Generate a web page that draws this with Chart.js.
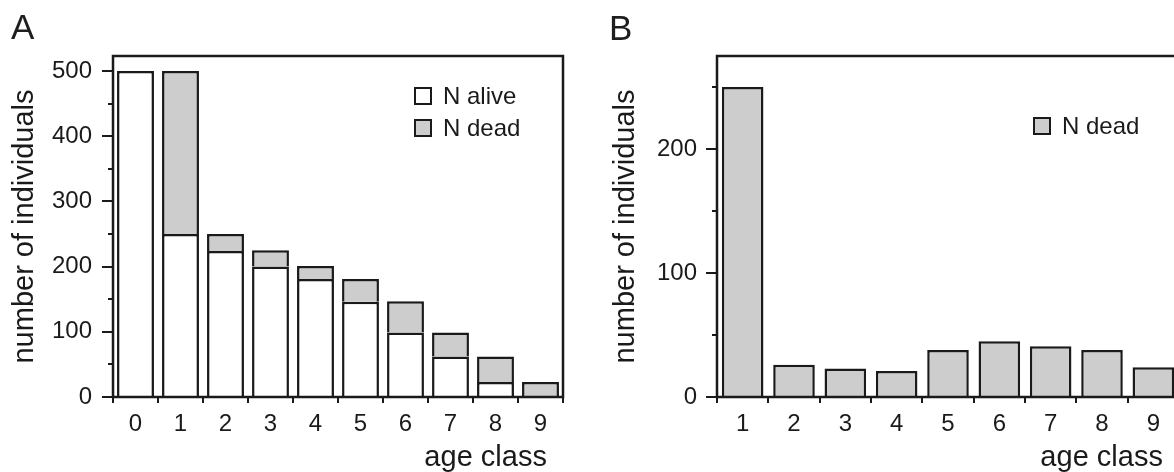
<!DOCTYPE html>
<html>
<head>
<meta charset="utf-8">
<script src="https://cdn.jsdelivr.net/npm/chart.js@4.4.1/dist/chart.umd.min.js"></script>
<style>
  html, body { margin: 0; padding: 0; background: #fff; overflow: hidden; }
  body { width: 1174px; height: 472px; position: relative; font-family: "Liberation Sans", Arial, sans-serif; color: #1e1e1e; }
  .wrap { position: absolute; top: 0; }
  .panel-letter { position: absolute; font-size: 35px; line-height: 35px; }
</style>
</head>
<body>
<div class="wrap" style="left:0"><canvas id="chartA" width="580" height="472"></canvas></div>
<div class="wrap" style="left:580px"><canvas id="chartB" width="620" height="472"></canvas></div>
<div class="panel-letter" style="left:11px;top:9px">A</div>
<div class="panel-letter" style="left:609px;top:10px">B</div>
<script>
// Panel A - alive / dead per age class (stacked)
const ageClassesA = ['0', '1', '2', '3', '4', '5', '6', '7', '8', '9'];
const aliveA = [500, 250, 224, 200, 181, 146, 99, 62, 23, 0];
const deadA = [0, 250, 26, 25, 20, 35, 48, 37, 39, 23];

// Panel B - dead only, from age class 1
const ageClassesB = ['1', '2', '3', '4', '5', '6', '7', '8', '9'];
const deadB = [250, 26, 23, 21, 38, 45, 41, 38, 24];

const ink = '#1a1a1a';
const grey = '#cdcdcd';
const family = 'Liberation Sans';

// box around the plot + the little key inside it
const frameKey = {
    id: 'frameKey',
    afterDatasetsDraw(chart, args, opts) {
        const { ctx, chartArea: a } = chart;
        ctx.save();
        ctx.lineWidth = 2.5;
        ctx.strokeStyle = ink;
        ctx.strokeRect(a.left, a.top, a.right - a.left, a.bottom - a.top);

        ctx.lineWidth = 2;
        ctx.font = '24px "' + family + '"';
        ctx.textBaseline = 'middle';
        chart.data.datasets.forEach((ds, i) => {
            const x = a.left + opts.x;
            const y = a.top + opts.y + i * 32;
            ctx.fillStyle = ds.backgroundColor;
            ctx.fillRect(x, y, 18, 18);
            ctx.strokeRect(x + 1, y + 1, 16, 16);
            ctx.fillStyle = ink;
            ctx.fillText(ds.label, x + 29, y + 10);
        });
        ctx.restore();
    }
};

function makeChart(id, labels, datasets, o) {
    return new Chart(document.getElementById(id), {
        type: 'bar',
        data: { labels: labels, datasets: datasets },
        options: {
            responsive: false,
            animation: false,
            layout: { padding: { left: 0, top: 56, right: o.padRight, bottom: 0 } },
            datasets: {
                bar: {
                    barPercentage: o.barPct,
                    categoryPercentage: 1,
                    borderWidth: 2.5,
                    borderColor: ink
                }
            },
            plugins: {
                legend: { display: false },
                tooltip: { enabled: false },
                frameKey: { x: o.keyX, y: o.keyY }
            },
            scales: {
                x: {
                    stacked: true,
                    border: { display: false },
                    grid: { offset: true, drawOnChartArea: false, color: ink, lineWidth: 2, tickLength: 6 },
                    ticks: { color: ink, font: { family: family, size: 24 }, padding: 7, maxRotation: 0 },
                    title: {
                        display: true,
                        text: 'age class\u00a0\u00a0',
                        align: 'end',
                        color: ink,
                        font: { family: family, size: 29, lineHeight: 1 },
                        padding: 0
                    },
                    afterFit: s => { s.height = 75; }
                },
                y: {
                    stacked: true,
                    weight: 1,
                    min: 0,
                    max: o.yMax,
                    border: { display: false },
                    grid: { drawOnChartArea: false, color: ink, lineWidth: 2, tickLength: 11 },
                    ticks: { stepSize: 100, includeBounds: false, color: ink, font: { family: family, size: 24 }, padding: o.tickPad },
                    title: {
                        display: true,
                        text: 'number of individuals',
                        color: ink,
                        font: { family: family, size: 29, lineHeight: 1 },
                        padding: { top: o.titlePad, bottom: 0 }
                    },
                    afterFit: s => { s.width = o.yWidth; }
                },
                // short minor ticks at every 50
                yMinor: {
                    position: 'left',
                    weight: 0,
                    min: 0,
                    max: o.yMax,
                    border: { display: false },
                    grid: { drawOnChartArea: false, color: ink, lineWidth: 2, tickLength: 5 },
                    ticks: { display: false, stepSize: 50, includeBounds: false },
                    afterFit: s => { s.width = 0; }
                }
            }
        },
        plugins: [frameKey]
    });
}

const chartA = makeChart('chartA', ageClassesA, [
    { label: 'N alive', data: aliveA, backgroundColor: '#ffffff' },
    { label: 'N dead', data: deadA, backgroundColor: grey }
], { padRight: 17, barPct: 0.82, yMax: 523, yWidth: 113, tickPad: 10, titlePad: 10, keyX: 301, keyY: 31 });

const chartB = makeChart('chartB', ageClassesB, [
    { label: 'N dead', data: deadB, backgroundColor: grey }
], { padRight: 21, barPct: 0.81, yMax: 275, yWidth: 137, tickPad: 9, titlePad: 31, keyX: 316, keyY: 61 });
</script>
</body>
</html>
